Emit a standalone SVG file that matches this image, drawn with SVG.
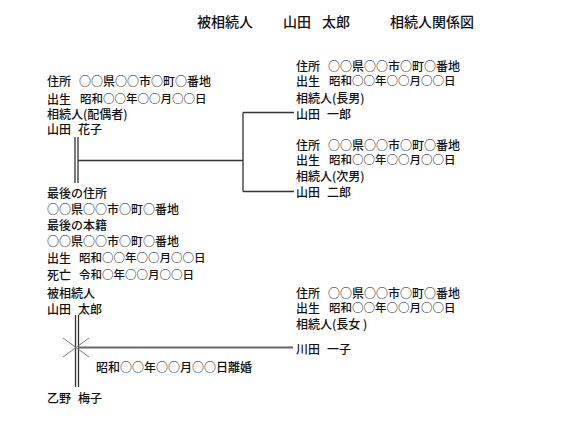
<svg xmlns="http://www.w3.org/2000/svg" width="568" height="428" viewBox="0 0 568 428">
<style>
text{font-family:"Noto Sans CJK JP","Noto Sans",sans-serif;fill:#111;dominant-baseline:central;font-size:12px;font-weight:500}
.t{font-size:14px}
.s{font-size:11.5px}
.ln{stroke:#333;stroke-width:1.3;fill:none}
.g{stroke:#666;stroke-width:2;fill:none}
.x{stroke:#777;stroke-width:1;fill:none}
</style>
<rect width="568" height="428" fill="#fff"/>
<g id="title">
<text class="t" x="197" y="21">被相続人</text>
<text class="t" x="283" y="21">山田</text>
<text class="t" x="322" y="21">太郎</text>
<text class="t" x="390" y="21">相続人関係図</text>
</g>
<g id="hanako">
<text x="47" y="80">住所</text><text x="79" y="80">○○県○○市○町○番地</text>
<text x="47" y="98">出生</text><text class="s" x="80" y="98">昭和○○年○○月○○日</text>
<text x="47" y="113">相続人(配偶者)</text>
<text x="47" y="128">山田</text><text x="78" y="128">花子</text>
</g>
<g id="ichiro">
<text x="296" y="65">住所</text><text x="328" y="65">○○県○○市○町○番地</text>
<text x="296" y="80">出生</text><text class="s" x="329" y="80">昭和○○年○○月○○日</text>
<text x="296" y="97">相続人(長男)</text>
<text x="296" y="113">山田</text><text x="327" y="113">一郎</text>
</g>
<g id="jiro">
<text x="296" y="144">住所</text><text x="328" y="144">○○県○○市○町○番地</text>
<text x="296" y="159">出生</text><text class="s" x="329" y="159">昭和○○年○○月○○日</text>
<text x="296" y="175">相続人(次男)</text>
<text x="296" y="191">山田</text><text x="327" y="191">二郎</text>
</g>
<g id="taro">
<text x="47" y="192">最後の住所</text>
<text x="47" y="208">○○県○○市○町○番地</text>
<text x="47" y="224">最後の本籍</text>
<text x="47" y="240">○○県○○市○町○番地</text>
<text x="47" y="257">出生</text><text class="s" x="79" y="257">昭和○○年○○月○○日</text>
<text x="47" y="274">死亡</text><text class="s" x="79" y="274">令和○年○○月○○日</text>
<text x="47" y="292">被相続人</text>
<text x="47" y="308">山田</text><text x="78" y="308">太郎</text>
</g>
<g id="kazuko">
<text x="296" y="292">住所</text><text x="328" y="292">○○県○○市○町○番地</text>
<text x="296" y="307">出生</text><text class="s" x="329" y="307">昭和○○年○○月○○日</text>
<text x="296" y="323">相続人(長女 )</text>
<text x="296" y="348">川田</text><text x="327" y="348">一子</text>
</g>
<g id="umeko">
<text x="47" y="397">乙野</text><text x="78" y="397">梅子</text>
</g>
<g id="connectors">
<path class="ln" d="M75 137V183M78 137V183M78 160.5H243M243 112.5V191.5M243 112.5H294M243 191.5H294"/>
<path class="ln" d="M75.5 315V387M78.5 315V387"/>
<path class="g" d="M78 347.5H293"/>
<path class="x" d="M63 338L89 357M63 357L89 338"/>
<text x="96" y="366">昭和○○年○○月○○日離婚</text>
</g>
</svg>
